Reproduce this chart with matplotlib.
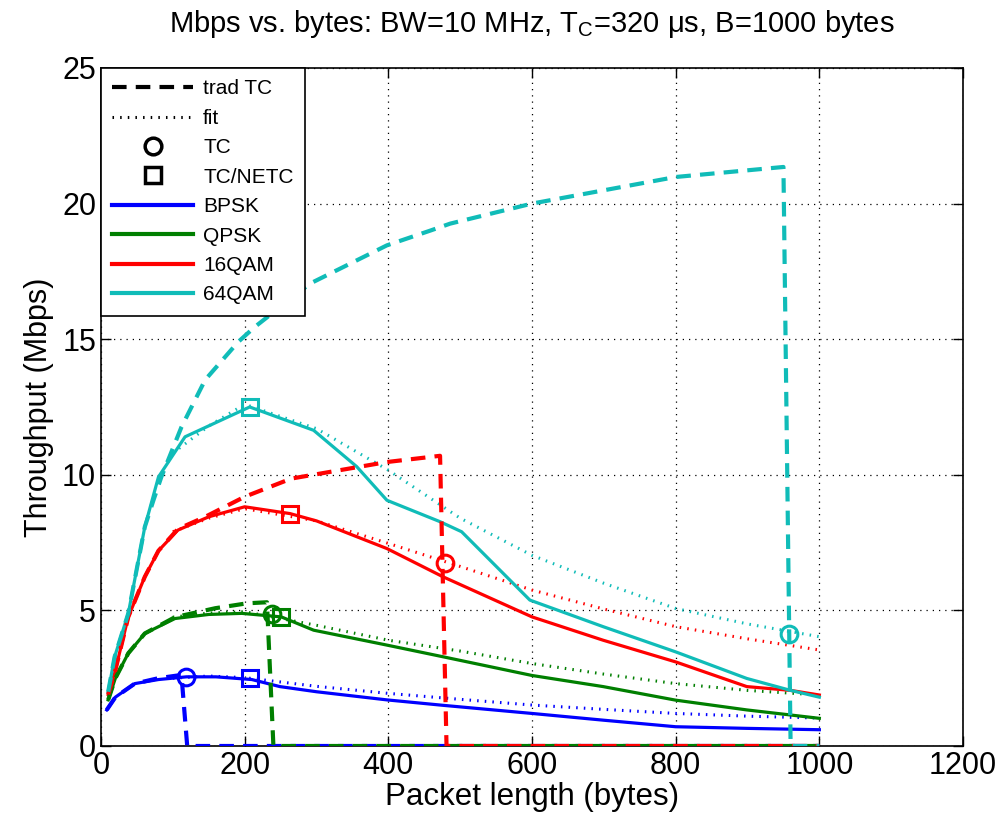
import matplotlib
matplotlib.use('Agg')
import matplotlib.pyplot as plt
from matplotlib.lines import Line2D

plt.rcParams['font.family'] = ['Liberation Sans', 'DejaVu Sans']
plt.rcParams['mathtext.fontset'] = 'custom'
plt.rcParams['mathtext.rm'] = 'Liberation Sans'

# solid curves (measured throughput)
bpsk_x = [8, 20, 47, 80, 119, 160, 210, 249, 300, 398, 476, 600, 700, 800, 899, 1000]
bpsk_y = [1.33, 1.8, 2.3, 2.45, 2.55, 2.55, 2.45, 2.19, 2.0, 1.7, 1.5, 1.2, 0.95, 0.71, 0.65, 0.6]
qpsk_x = [10, 20, 38, 61, 103, 150, 196, 251, 296, 398, 476, 600, 699, 800, 899, 1000]
qpsk_y = [1.7, 2.5, 3.42, 4.15, 4.7, 4.85, 4.89, 4.76, 4.27, 3.72, 3.29, 2.6, 2.19, 1.69, 1.33, 1.02]
qam16_x = [10, 19, 38, 61, 80, 107, 150, 200, 263, 300, 398, 476, 600, 699, 800, 899, 960, 1000]
qam16_y = [1.9, 2.69, 4.76, 6.24, 7.2, 7.96, 8.45, 8.82, 8.57, 8.3, 7.28, 6.24, 4.76, 3.9, 3.1, 2.19, 2.05, 1.88]
qam64_x = [10, 19, 38, 61, 80, 117, 207, 296, 356, 398, 472, 502, 597, 699, 800, 899, 960, 1000]
qam64_y = [2.0, 3.29, 4.89, 8.08, 9.92, 11.4, 12.5, 11.64, 10.3, 9.06, 8.27, 7.9, 5.38, 4.4, 3.47, 2.49, 2.05, 1.8]

# trad TC (dashed)
bpsk_trad_x = [8, 20, 47, 80, 112, 120, 1000]
bpsk_trad_y = [1.33, 1.8, 2.3, 2.5, 2.62, 0, 0]
qpsk_trad_x = [10, 20, 38, 61, 103, 159, 203, 231, 240, 1000]
qpsk_trad_y = [1.7, 2.5, 3.42, 4.15, 4.75, 5.08, 5.26, 5.3, 0, 0]
qam16_trad_x = [10, 19, 38, 61, 80, 107, 145, 200, 265, 398, 472, 481, 1000]
qam16_trad_y = [1.9, 2.69, 4.76, 6.24, 7.2, 8.0, 8.45, 9.19, 9.86, 10.47, 10.7, 0, 0]
qam64_trad_x = [10, 19, 38, 61, 73, 84, 112, 145, 191, 214, 291, 398, 458, 486, 600, 800, 950, 960, 1000]
qam64_trad_y = [2.0, 3.29, 4.89, 8.08, 9.06, 9.92, 11.76, 13.5, 14.9, 15.45, 17.05, 18.46, 19.0, 19.26, 20.0, 20.98, 21.35, 0, 0]

# fit (dotted)
fit_x = [100, 150, 200, 300, 400, 500, 600, 700, 800, 900, 1000]
bpsk_fit = [2.5, 2.58, 2.52, 2.2, 1.94, 1.72, 1.51, 1.35, 1.2, 1.1, 1.03]
qpsk_fit = [4.75, 4.9, 4.95, 4.45, 3.9, 3.5, 3.04, 2.65, 2.3, 2.05, 1.88]
qam16_fit = [7.9, 8.4, 8.75, 8.3, 7.47, 6.62, 5.75, 5.05, 4.4, 3.95, 3.54]
qam64_fit = [10.8, 11.8, 12.6, 11.7, 10.17, 8.4, 7.03, 6.0, 5.07, 4.5, 4.03]

# TC and TC/NETC points
tc_x = [119, 238, 479, 958]
tc_y = [2.55, 4.85, 6.73, 4.13]
netc_x = [207, 251, 263, 207]
netc_y = [2.49, 4.76, 8.57, 12.5]

colors = ['#0000ff', '#007f00', '#ff0000', '#10bcb8']
names = ['BPSK', 'QPSK', '16QAM', '64QAM']

fig = plt.figure(figsize=(10.02, 8.31), dpi=100)
ax = fig.add_axes([0.1008, 0.1023, 0.8603, 0.8159])

solids = [(bpsk_x, bpsk_y), (qpsk_x, qpsk_y), (qam16_x, qam16_y), (qam64_x, qam64_y)]
trads = [(bpsk_trad_x, bpsk_trad_y), (qpsk_trad_x, qpsk_trad_y),
         (qam16_trad_x, qam16_trad_y), (qam64_trad_x, qam64_trad_y)]
fits = [bpsk_fit, qpsk_fit, qam16_fit, qam64_fit]

for i in range(4):
    c = colors[i]
    ax.plot(solids[i][0], solids[i][1], color=c, lw=2.3, zorder=3)
    ax.plot(fit_x, fits[i], color=c, lw=2.2, ls=(0, (0.5, 2.0)), zorder=3)
    ax.plot(trads[i][0], trads[i][1], color=c, lw=3.0, ls=(0, (3.5, 2.2)), zorder=4)
    ax.plot(tc_x[i], tc_y[i], 'o', ms=12, mfc='none', mec=c, mew=2.2, zorder=5)
    ax.plot(netc_x[i], netc_y[i], 's', ms=11, mfc='none', mec=c, mew=2.2, zorder=5)

ax.set_xlim(0, 1200)
ax.set_ylim(0, 25)
ax.set_xticks(range(0, 1201, 200))
ax.set_yticks(range(0, 26, 5))
ax.grid(True, color='black', ls=(0, (1, 4)), lw=0.9)
ax.tick_params(direction='in', top=True, right=True, length=7, width=1, labelsize=22)
for s in ax.spines.values():
    s.set_linewidth(1.2)

ax.set_xlabel('Packet length (bytes)', fontsize=22.5, labelpad=1)
ax.set_ylabel('Throughput (Mbps)', fontsize=22, labelpad=6)
ax.set_title(r'Mbps vs. bytes: BW=10 MHz, T$_\mathregular{C}$=320 μs, B=1000 bytes', fontsize=21, pad=26)

handles = [Line2D([], [], color='black', lw=3.0, ls=(0, (3.5, 2.2))),
           Line2D([], [], color='black', lw=2.2, ls=(0, (0.5, 2.0))),
           Line2D([], [], color='black', ls='none', marker='o', ms=12, mfc='none', mew=2.5),
           Line2D([], [], color='black', ls='none', marker='s', ms=11, mfc='none', mew=2.5)]
handles += [Line2D([], [], color=c, lw=3) for c in colors]
labels = ['trad TC', 'fit', 'TC', 'TC/NETC'] + names
leg = ax.legend(handles, labels, loc='upper left', borderaxespad=0, fontsize=15,
                fancybox=False, framealpha=1, edgecolor='black', handlelength=3.85,
                labelspacing=0.5, borderpad=0.55, handletextpad=0.5)
leg.get_frame().set_linewidth(1.2)
leg.set_zorder(10)

fig.savefig('out.png', dpi=100)
